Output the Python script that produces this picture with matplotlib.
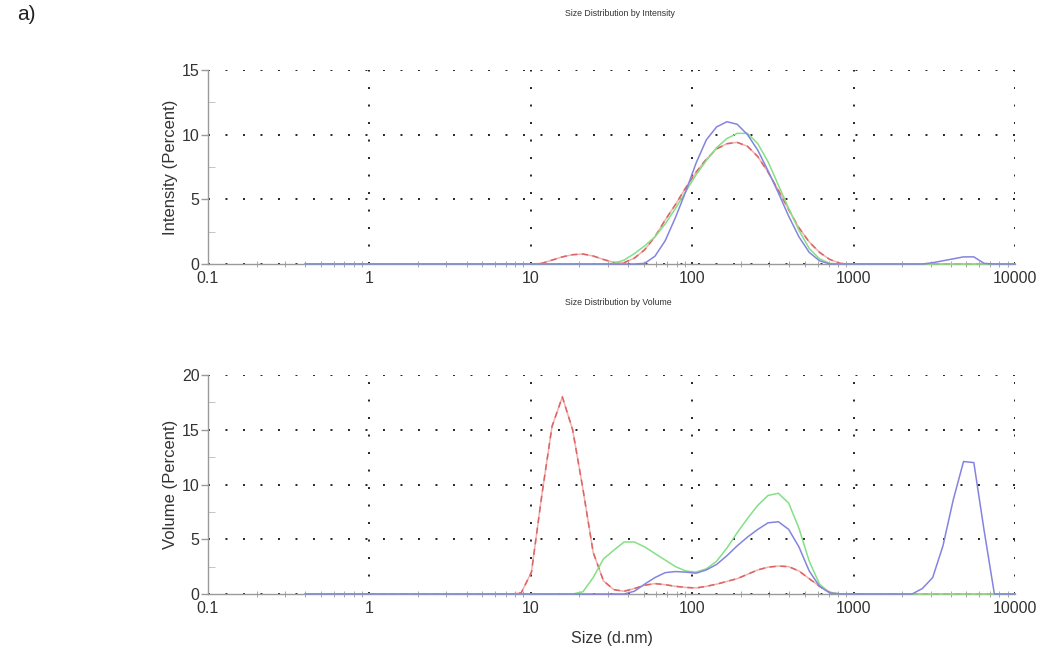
import numpy as np
import matplotlib
matplotlib.use("Agg")
import matplotlib.pyplot as plt
from matplotlib.ticker import FixedLocator, FixedFormatter, LogLocator, MultipleLocator

plt.rcParams['font.family'] = ['Liberation Sans', 'DejaVu Sans']

# size bins (d.nm), read along the log axis
sizes = [0.4, 0.4632, 0.5365, 0.6213, 0.7195, 0.8332, 0.9649, 1.117, 1.294, 1.499,
         1.736, 2.01, 2.328, 2.696, 3.122, 3.615, 4.187, 4.849, 5.615, 6.503,
         7.531, 8.721, 10.1, 11.7, 13.54, 15.69, 18.17, 21.04, 24.36, 28.21,
         32.67, 37.84, 43.82, 50.75, 58.77, 68.06, 78.82, 91.28, 105.7, 122.4,
         141.8, 164.2, 190.1, 220.2, 255.0, 295.3, 342.0, 396.1, 458.7, 531.2,
         615.1, 712.4, 825.0, 955.4, 1106, 1281, 1484, 1718, 1990, 2305,
         2669, 3091, 3580, 4145, 4801, 5560, 6439, 7456, 8635, 10000]

# intensity (percent), bins 0..69
int_red = ([0] * 23 +
           [0.05, 0.3, 0.55, 0.72, 0.77, 0.62, 0.35, 0.12, 0.1, 0.45,
            1.1, 2.1, 3.4, 4.6, 5.9, 7.1, 8.1, 8.9, 9.3, 9.4,
            9.1, 8.3, 7.1, 5.7, 4.2, 2.8, 1.7, 0.9, 0.35, 0.05] +
           [0] * 17)
int_green = ([0] * 30 +
             [0.05, 0.3, 0.8, 1.4, 2.1, 3.1, 4.3, 5.6, 6.9, 8.0,
              9.0, 9.7, 10.1, 10.1, 9.3, 7.9, 6.1, 4.3, 2.6, 1.2,
              0.4, 0.05] +
             [0] * 18)
int_blue = ([0] * 33 +
            [0.05, 0.6, 1.8, 3.6, 5.6, 7.8, 9.6, 10.6, 11.0, 10.8,
             10.0, 8.8, 7.2, 5.5, 3.7, 2.1, 0.9, 0.25] +
            [0] * 10 +
            [0.1, 0.25, 0.4, 0.55, 0.55, 0.05] +
            [0] * 3)

# volume (percent), bins 0..69
vol_red = ([0] * 21 +
           [0.1, 2.0, 9.0, 15.3, 18.0, 15.0, 9.6, 3.8, 1.2, 0.4,
            0.25, 0.5, 0.8, 0.95, 0.85, 0.7, 0.6, 0.55, 0.7, 0.9,
            1.15, 1.4, 1.8, 2.2, 2.45, 2.55, 2.5, 2.1, 1.4, 0.7,
            0.15] +
           [0] * 18)
vol_green = ([0] * 27 +
             [0.2, 1.5, 3.2, 4.0, 4.75, 4.75, 4.3, 3.7, 3.1, 2.5,
              2.1, 2.0, 2.3, 3.0, 4.2, 5.6, 6.9, 8.1, 9.0, 9.2,
              8.3, 6.0, 3.0, 0.9, 0.1] +
             [0] * 18)
vol_blue = ([0] * 32 +
            [0.25, 0.9, 1.5, 1.95, 2.05, 2.0, 1.9, 2.2, 2.7, 3.5,
             4.4, 5.2, 5.9, 6.5, 6.6, 5.9, 4.3, 2.1, 0.7, 0.1] +
            [0] * 8 +
            [0.5, 1.5, 4.4, 8.6, 12.1, 12.0, 5.8] +
            [0] * 3)

x_ticks = [0.1, 1, 10, 100, 1000, 10000]
x_tick_labels = ["0.1", "1", "10", "100", "1000", "10000"]

RED = '#dc6464'
RED_LIGHT = '#f2b0b0'
GREEN = '#84e084'
BLUE = '#8484e0'


def style_axes(ax, ymax, ylabel, show_xlabel):
    ax.set_xscale('log')
    ax.set_xlim(0.1, 10000)
    ax.set_ylim(0, ymax)
    ax.xaxis.set_major_locator(FixedLocator(x_ticks))
    ax.xaxis.set_major_formatter(FixedFormatter(x_tick_labels))
    ax.xaxis.set_minor_locator(LogLocator(base=10, subs=np.arange(2, 10)))
    ax.xaxis.set_minor_formatter(FixedFormatter([]))
    ax.yaxis.set_major_locator(MultipleLocator(5))
    ax.yaxis.set_minor_locator(MultipleLocator(2.5))
    for s in ['top', 'right']:
        ax.spines[s].set_visible(False)
    for s in ['left', 'bottom']:
        ax.spines[s].set_color('#9a9a9a')
        ax.spines[s].set_linewidth(1.0)
    ax.tick_params(axis='both', which='major', labelsize=11.5, colors='#9a9a9a',
                   labelcolor='#333333', length=5, width=1)
    ax.tick_params(axis='y', which='major', direction='out', pad=1)
    ax.tick_params(axis='x', which='major', direction='inout', length=0, pad=5)
    ax.tick_params(axis='y', which='minor', direction='in', length=5, colors='#bbbbbb')
    ax.tick_params(axis='x', which='minor', direction='inout', length=4, colors='#9a9a9a')
    ax.grid(which='major', linestyle=(0, (1, 8)), color='#222222', linewidth=1.4)
    ax.set_axisbelow(True)
    ax.set_ylabel(ylabel, fontsize=12, color='#333333', labelpad=3)
    if show_xlabel:
        ax.set_xlabel("Size (d.nm)", fontsize=11.5, color='#333333', labelpad=11)


def draw_curves(ax, red, green, blue):
    ax.plot(sizes, red, color=RED_LIGHT, lw=1.1, zorder=3, clip_on=False)
    ax.plot(sizes, red, color=RED, lw=1.1, ls=(0, (4, 3)), zorder=3, clip_on=False)
    ax.plot(sizes, green, color=GREEN, lw=1.1, zorder=4, clip_on=False)
    ax.plot(sizes, blue, color=BLUE, lw=1.1, zorder=5, clip_on=False)


fig = plt.figure(figsize=(10.44, 6.6), dpi=100)
ax1 = fig.add_axes([0.1992, 0.6, 0.773, 0.294])
ax2 = fig.add_axes([0.1992, 0.1, 0.773, 0.3318])

draw_curves(ax1, int_red, int_green, int_blue)
style_axes(ax1, 15, "Intensity (Percent)", False)
draw_curves(ax2, vol_red, vol_green, vol_blue)
style_axes(ax2, 20, "Volume (Percent)", True)

fig.text(0.594, 0.979, "Size Distribution by Intensity", fontsize=6.3, ha='center',
         va='center', color='#333333')
fig.text(0.592, 0.542, "Size Distribution by Volume", fontsize=6.3, ha='center',
         va='center', color='#333333')
fig.text(0.016, 0.978, "a)", fontsize=15, ha='left', va='center', color='#222222')

fig.savefig("out.png", dpi=100)
